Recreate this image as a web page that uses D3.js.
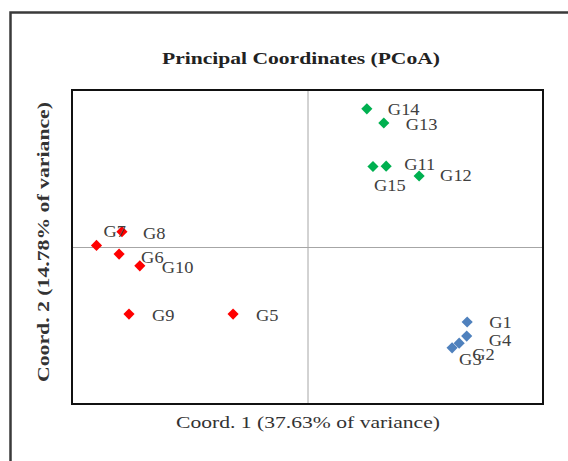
<!DOCTYPE html>
<html>
<head>
<meta charset="utf-8">
<script src="https://cdn.jsdelivr.net/npm/d3@7"></script>
<style>
  html, body { margin: 0; padding: 0; background: #fff; }
  svg { display: block; }
</style>
</head>
<body>
<svg id="chart" width="568" height="461"></svg>
<script>
// ---- data ----
const labels = ["G1","G2","G3","G4","G5","G6","G7","G8","G9","G10","G11","G12","G13","G14","G15"];
const coord1 = [0.339, 0.322, 0.307, 0.338, -0.158, -0.400, -0.448, -0.394, -0.379, -0.356, 0.167, 0.237, 0.162, 0.126, 0.139];
const coord2 = [-0.191, -0.245, -0.257, -0.227, -0.171, -0.018, 0.004, 0.039, -0.171, -0.048, 0.206, 0.181, 0.316, 0.352, 0.205];
const groups = ["A","A","A","A","B","B","B","B","B","B","C","C","C","C","C"];
const groupColors = { A: "#4F81BD", B: "#FF0000", C: "#00B050" };
const titleText = "Principal Coordinates (PCoA)";
const xTitle = "Coord. 1 (37.63% of variance)";
const yTitle = "Coord. 2 (14.78% of variance)";

// label placement (layout only, offsets in px from marker)
const labelOffset = {
  G1: [22, 0], G2: [13, 11], G3: [7, 12], G4: [22, 4], G5: [23, 1],
  G6: [22, 3], G7: [7, -14], G8: [21, 2], G9: [23, 1], G10: [22, 2],
  G11: [18, -2], G12: [21, -1], G13: [22, 1], G14: [21, 1], G15: [1, 19]
};

const svg = d3.select("#chart");
const plot = { left: 72, top: 90, right: 543, bottom: 404 };

// outer frame
svg.append("rect")
  .attr("x", 10.5).attr("y", 12.5)
  .attr("width", 620).attr("height", 500)
  .attr("fill", "none").attr("stroke", "#3a3a3a").attr("stroke-width", 2.5);

const x = d3.scaleLinear().domain([-0.5, 0.5]).range([plot.left, plot.right]);
const y = d3.scaleLinear().domain([-0.4, 0.4]).range([plot.bottom, plot.top]);

// zero axes
svg.append("g")
  .attr("transform", `translate(0,${y(0)})`)
  .call(d3.axisBottom(x).tickValues([]).tickSizeOuter(0))
  .call(g => g.select(".domain").attr("stroke", "#a6a6a6").attr("stroke-width", 1));
svg.append("g")
  .attr("transform", `translate(${x(0)},0)`)
  .call(d3.axisLeft(y).tickValues([]).tickSizeOuter(0))
  .call(g => g.select(".domain").attr("stroke", "#a6a6a6").attr("stroke-width", 1));

// plot border
svg.append("rect")
  .attr("x", plot.left).attr("y", plot.top)
  .attr("width", plot.right - plot.left).attr("height", plot.bottom - plot.top)
  .attr("fill", "none").attr("stroke", "#111").attr("stroke-width", 2);

// points
const data = labels.map((l, i) => ({ label: l, cx: coord1[i], cy: coord2[i], group: groups[i] }));
const sym = d3.symbol().type(d3.symbolSquare).size(62);
svg.append("g").selectAll("path")
  .data(data).join("path")
  .attr("d", sym)
  .attr("transform", d => `translate(${x(d.cx)},${y(d.cy)}) rotate(45)`)
  .attr("fill", d => groupColors[d.group]);

// point labels
svg.append("g").selectAll("text")
  .data(data).join("text")
  .attr("x", d => x(d.cx) + labelOffset[d.label][0])
  .attr("y", d => y(d.cy) + labelOffset[d.label][1])
  .attr("dy", "0.35em")
  .attr("font-family", "'Liberation Serif', 'Times New Roman', serif")
  .attr("font-size", 16)
  .attr("fill", "#404040")
  .text(d => d.label)
  .each(function() {
    const len = this.getComputedTextLength();
    d3.select(this).attr("textLength", len * 1.15).attr("lengthAdjust", "spacingAndGlyphs");
  });

// title
svg.append("text")
  .attr("x", 162).attr("y", 64)
  .attr("textLength", 278).attr("lengthAdjust", "spacingAndGlyphs")
  .attr("font-family", "'Liberation Serif', 'Times New Roman', serif")
  .attr("font-size", 17).attr("font-weight", "bold")
  .attr("fill", "#222")
  .text(titleText);

// x title
svg.append("text")
  .attr("x", 176).attr("y", 428)
  .attr("textLength", 264).attr("lengthAdjust", "spacingAndGlyphs")
  .attr("font-family", "'Liberation Serif', 'Times New Roman', serif")
  .attr("font-size", 16)
  .attr("fill", "#333")
  .text(xTitle);

// y title
svg.append("text")
  .attr("transform", "translate(49,382) rotate(-90)")
  .attr("textLength", 280).attr("lengthAdjust", "spacingAndGlyphs")
  .attr("font-family", "'Liberation Serif', 'Times New Roman', serif")
  .attr("font-size", 16).attr("font-weight", "bold")
  .attr("fill", "#333")
  .text(yTitle);
</script>
</body>
</html>
